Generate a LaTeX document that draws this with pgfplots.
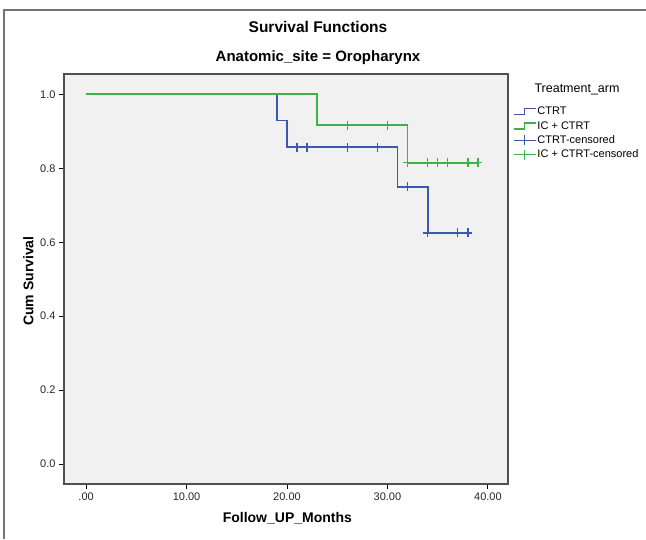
\documentclass[border=0pt]{standalone}
\usepackage{pgfplots}
\pgfplotsset{compat=1.18}
\usepackage{fontspec}
\setmainfont{Liberation Sans}

\definecolor{ctrt}{RGB}{62,88,172}
\definecolor{ic}{RGB}{60,178,72}
\definecolor{plotbg}{RGB}{241,241,241}
\definecolor{frame}{RGB}{80,80,80}

\pgfplotsset{
  stepleg/.style={legend image code/.code={
    \draw[#1, line width=1.4pt] (-2pt,-3pt) -- (9pt,-3pt) -- (9pt,3pt) -- (20pt,3pt);}},
  censleg/.style={legend image code/.code={
    \draw[#1, line width=1.4pt] (-2pt,0pt) -- (20pt,0pt);
    \draw[#1, line width=1.4pt] (9pt,-5pt) -- (9pt,5pt);}},
}

\begin{document}
\begin{tikzpicture}[x=1pt,y=1pt]
\useasboundingbox (0pt,0pt) rectangle (646pt,539pt);
% outer chart frame
\draw[frame!80, line width=1.5pt] (4pt,0pt) -- (4pt,529pt) -- (646pt,529pt);

\node[font=\bfseries\fontsize{15.5}{18}\selectfont] at (318pt,512pt) {Survival Functions};
\node[font=\bfseries\fontsize{15}{18}\selectfont] at (318pt,481pt) {Anatomic\_site = Oropharynx};
\node[font=\fontsize{12.5}{14}\selectfont, anchor=west] at (531pt,450pt) {Treatment\_arm};

\begin{axis}[
  at={(64pt,55pt)}, anchor=south west,
  scale only axis,
  width=444pt, height=410pt,
  xmin=-2.2, xmax=42.0,
  ymin=-0.054, ymax=1.055,
  axis background/.style={fill=plotbg},
  axis line style={frame, line width=1.8pt},
  xtick={0,10,20,30,40},
  xticklabels={.00,10.00,20.00,30.00,40.00},
  ytick={0,0.2,0.4,0.6,0.8,1.0},
  yticklabels={0.0,0.2,0.4,0.6,0.8,1.0},
  tick align=outside,
  tick pos=left,
  major tick length=5pt,
  tick style={black, line width=1pt},
  ticklabel style={font=\fontsize{11}{13}\selectfont, text=black!85},
  /pgf/number format/assume math mode=true,
  xlabel={Follow\_UP\_Months},
  ylabel={Cum Survival},
  label style={font=\bfseries\fontsize{14}{16}\selectfont},
  xlabel style={at={(axis description cs:0.503,0)}, anchor=north, yshift=-25pt},
  ylabel style={at={(axis description cs:0,0.495)}, anchor=south, yshift=27pt},
  legend style={at={(1.011,0.922)}, anchor=north west, draw=none, fill=none,
    font=\fontsize{11}{13}\selectfont, row sep=3pt, inner sep=0pt,
    nodes={inner sep=1pt}},
  legend cell align=left,
  clip=false,
]
\addplot[ctrt, line width=1.8pt, const plot mark left, forget plot]
  coordinates {(0,1) (19,0.929) (20,0.857) (31,0.75) (34,0.625) (38,0.625)};
\addplot[ic, line width=1.8pt, const plot mark left, forget plot]
  coordinates {(0,1) (23,0.917) (32,0.815) (39,0.815)};

% legend entries
\addlegendimage{stepleg=ctrt}
\addlegendentry{CTRT}
\addlegendimage{stepleg=ic}
\addlegendentry{IC + CTRT}

\addplot[ctrt, only marks, mark=+, mark size=4.5pt, mark options={line width=1.4pt},
  censleg=ctrt]
  coordinates {(21,0.857) (22,0.857) (26,0.857) (29,0.857) (32,0.75)
               (34,0.625) (37,0.625) (38,0.625)};
\addlegendentry{CTRT-censored}
\addplot[ic, only marks, mark=+, mark size=4.5pt, mark options={line width=1.4pt},
  censleg=ic]
  coordinates {(26,0.917) (30,0.917) (32,0.815) (34,0.815) (35,0.815)
               (36,0.815) (38,0.815) (39,0.815)};
\addlegendentry{IC + CTRT-censored}
\end{axis}
\end{tikzpicture}
\end{document}
